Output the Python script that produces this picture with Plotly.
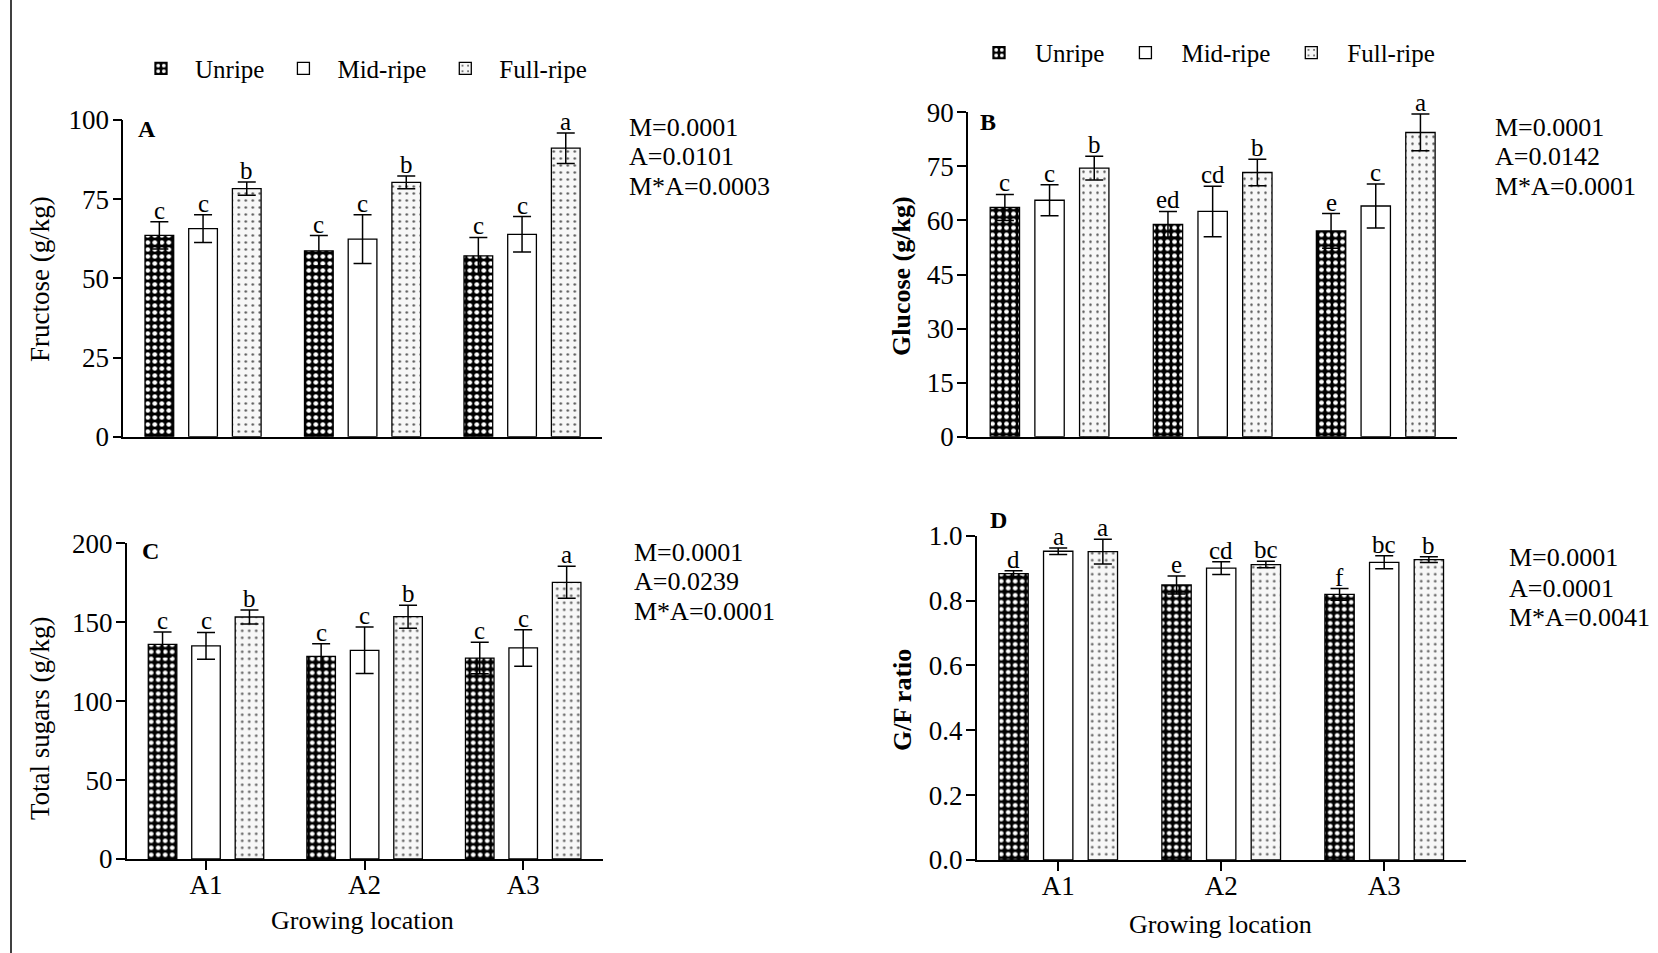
import plotly.graph_objects as go

W, H = 1658, 953
FONT = "Liberation Serif, Times New Roman, serif"

# ---- data -------------------------------------------------------------
locations = ["A1", "A2", "A3"]
stages = ["Unripe", "Mid-ripe", "Full-ripe"]

# rows follow `stages`, columns follow `locations`
fructose_mean = [[63.6, 58.7, 57.1], [65.7, 62.4, 63.9], [78.3, 80.3, 91.1]]
fructose_err = [[4.3, 4.8, 5.8], [4.4, 7.7, 5.6], [2.1, 2.0, 4.8]]
fructose_letters = [["c", "c", "c"], ["c", "c", "c"], ["b", "b", "a"]]

glucose_mean = [[63.6, 58.9, 57.1], [65.6, 62.5, 64.0], [74.5, 73.3, 84.4]]
glucose_err = [[3.6, 3.6, 4.8], [4.3, 7.0, 6.1], [3.3, 3.7, 5.1]]
glucose_letters = [["c", "ed", "e"], ["c", "cd", "c"], ["b", "b", "a"]]

total_mean = [[136.0, 128.4, 127.3], [135.0, 132.2, 133.7], [153.3, 153.5, 175.3]]
total_err = [[7.8, 8.0, 10.0], [8.5, 14.7, 11.6], [4.4, 7.3, 10.1]]
total_letters = [["c", "c", "c"], ["c", "c", "c"], ["b", "b", "a"]]

ratio_mean = [[0.883, 0.848, 0.819], [0.952, 0.900, 0.918], [0.951, 0.911, 0.926]]
ratio_err = [[0.009, 0.028, 0.018], [0.010, 0.020, 0.020], [0.038, 0.010, 0.009]]
ratio_letters = [["d", "e", "f"], ["a", "cd", "bc"], ["a", "bc", "b"]]

fructose_stats = ["M=0.0001", "A=0.0101", "M*A=0.0003"]
glucose_stats = ["M=0.0001", "A=0.0142", "M*A=0.0001"]
total_stats = ["M=0.0001", "A=0.0239", "M*A=0.0001"]
ratio_stats = ["M=0.0001", "A=0.0001", "M*A=0.0041"]

# ---- styling ----------------------------------------------------------
SLOT = 0.274      # distance between neighbouring bars of a group (category units)
BAR_W = 0.18      # bar width (category units)

fills = {
    "Unripe": dict(color="black",
                   pattern=dict(shape=".", fgcolor="white", bgcolor="black",
                                size=7, solidity=0.36, fillmode="replace")),
    "Mid-ripe": dict(color="white"),
    "Full-ripe": dict(color="#f7f7f7",
                      pattern=dict(shape=".", fgcolor="#555555", bgcolor="#f7f7f7",
                                   size=7, solidity=0.1, fillmode="replace")),
}


def px_x(v):
    return v / W


def px_y(v):
    return 1 - v / H


fig = go.Figure()
annotations = []

panels = [
    # name, means, errors, letters, axis suffix, legend id
    ("A", fructose_mean, fructose_err, fructose_letters, "", "legend"),
    ("B", glucose_mean, glucose_err, glucose_letters, "2", "legend2"),
    ("C", total_mean, total_err, total_letters, "3", None),
    ("D", ratio_mean, ratio_err, ratio_letters, "4", None),
]

for name, means, errs, letters, sfx, leg in panels:
    for k, stage in enumerate(stages):
        xs = [i + (k - 1) * SLOT for i in range(len(locations))]
        style = fills[stage]
        marker = dict(color=style["color"], line=dict(color="black", width=1.3))
        if "pattern" in style:
            marker["pattern"] = style["pattern"]
        trace = go.Bar(
            x=xs, y=means[k], width=BAR_W, name=stage,
            marker=marker,
            error_y=dict(type="data", array=errs[k], visible=True,
                         color="black", thickness=1.5, width=9),
            xaxis="x" + sfx, yaxis="y" + sfx,
            showlegend=leg is not None,
        )
        if leg is not None:
            trace.legend = leg
        fig.add_trace(trace)
        for i in range(len(locations)):
            annotations.append(dict(
                x=xs[i], y=means[k][i] + errs[k][i], xref="x" + sfx, yref="y" + sfx,
                text=letters[k][i], showarrow=False, yanchor="bottom", yshift=-4,
                font=dict(family=FONT, size=25, color="black")))

axis_common = dict(showline=True, linecolor="black", linewidth=1.6, showgrid=False,
                   zeroline=False, fixedrange=True, automargin=False)
tick_common = dict(ticks="outside", ticklen=9, tickwidth=1.5, tickcolor="black",
                   tickfont=dict(family=FONT, size=27, color="black"))

layout_axes = dict(
    xaxis=dict(domain=[px_x(123.3), px_x(601.8)], range=[-0.5, 2.5], anchor="y",
               showticklabels=False, ticks="", **axis_common),
    yaxis=dict(domain=[px_y(436.7), px_y(120)], range=[0, 100], anchor="x",
               tickvals=[0, 25, 50, 75, 100], ticklabelstandoff=-2,
               **axis_common, **tick_common),
    xaxis2=dict(domain=[px_x(968), px_x(1457.3)], range=[-0.5, 2.5], anchor="y2",
                showticklabels=False, ticks="", **axis_common),
    yaxis2=dict(domain=[px_y(436.7), px_y(112.3)], range=[0, 90], anchor="x2",
                tickvals=[0, 15, 30, 45, 60, 75, 90], ticklabelstandoff=-2,
                **axis_common, **tick_common),
    xaxis3=dict(domain=[px_x(126.7), px_x(602.5)], range=[-0.5, 2.5], anchor="y3",
                tickvals=[0, 1, 2], ticktext=locations, ticklabelstandoff=-8,
                **axis_common, **tick_common),
    yaxis3=dict(domain=[px_y(859), px_y(543.3)], range=[0, 200], anchor="x3",
                tickvals=[0, 50, 100, 150, 200], ticklabelstandoff=-2,
                **axis_common, **tick_common),
    xaxis4=dict(domain=[px_x(976.7), px_x(1465.7)], range=[-0.5, 2.5], anchor="y4",
                tickvals=[0, 1, 2], ticktext=locations, ticklabelstandoff=-8,
                **axis_common, **tick_common),
    yaxis4=dict(domain=[px_y(860), px_y(535.7)], range=[0, 1.0], anchor="x4",
                tickvals=[0, 0.2, 0.4, 0.6, 0.8, 1.0], tickformat=".1f",
                ticklabelstandoff=-2, **axis_common, **tick_common),
)


def paper_text(text, x, y, size=25, bold=False, angle=0, xanchor="left"):
    return dict(text=f"<b>{text}</b>" if bold else text, x=px_x(x), y=px_y(y),
                xref="paper", yref="paper", showarrow=False, xanchor=xanchor,
                yanchor="middle", textangle=angle,
                font=dict(family=FONT, size=size, color="black"))


# panel letters
annotations += [
    paper_text("A", 136, 129, size=24, bold=True),
    paper_text("B", 978, 122, size=24, bold=True),
    paper_text("C", 140, 551, size=24, bold=True),
    paper_text("D", 988, 520, size=24, bold=True),
]

# y-axis titles
annotations += [
    paper_text("Fructose (g/kg)", 40, 279, size=27, angle=-90, xanchor="center"),
    paper_text("Glucose (g/kg)", 901, 276, size=26, bold=True, angle=-90, xanchor="center"),
    paper_text("Total sugars (g/kg)", 40, 718, size=27, angle=-90, xanchor="center"),
    paper_text("G/F ratio", 902, 700, size=26, bold=True, angle=-90, xanchor="center"),
]

# x-axis titles
annotations += [
    paper_text("Growing location", 362, 920, size=26, xanchor="center"),
    paper_text("Growing location", 1220, 924, size=26, xanchor="center"),
]

# significance summaries
for stats, x0, ys in [
    (fructose_stats, 627, [127, 156.5, 186]),
    (glucose_stats, 1493, [127, 156.5, 186]),
    (total_stats, 632, [552, 581.6, 611]),
    (ratio_stats, 1507, [557, 588, 617.5]),
]:
    for line, yy in zip(stats, ys):
        annotations.append(paper_text(line, x0, yy, size=26))

legend_common = dict(orientation="h", yanchor="middle", xanchor="left",
                     font=dict(family=FONT, size=25, color="black"),
                     bgcolor="rgba(0,0,0,0)", traceorder="normal",
                     itemclick=False, itemdoubleclick=False)

fig.update_layout(
    width=W, height=H,
    margin=dict(l=0, r=0, t=0, b=0, autoexpand=False),
    paper_bgcolor="white", plot_bgcolor="white",
    barmode="overlay",
    font=dict(family=FONT, size=25, color="black"),
    legend=dict(x=px_x(127), y=px_y(68.7), itemwidth=58, **legend_common),
    legend2=dict(x=px_x(963), y=px_y(52.9), itemwidth=62, **legend_common),
    annotations=annotations,
    shapes=[dict(type="line", xref="paper", yref="paper", x0=px_x(11), x1=px_x(11),
                 y0=0, y1=1, line=dict(color="black", width=1.5))],
    **layout_axes,
)

fig.write_html("out.html")
